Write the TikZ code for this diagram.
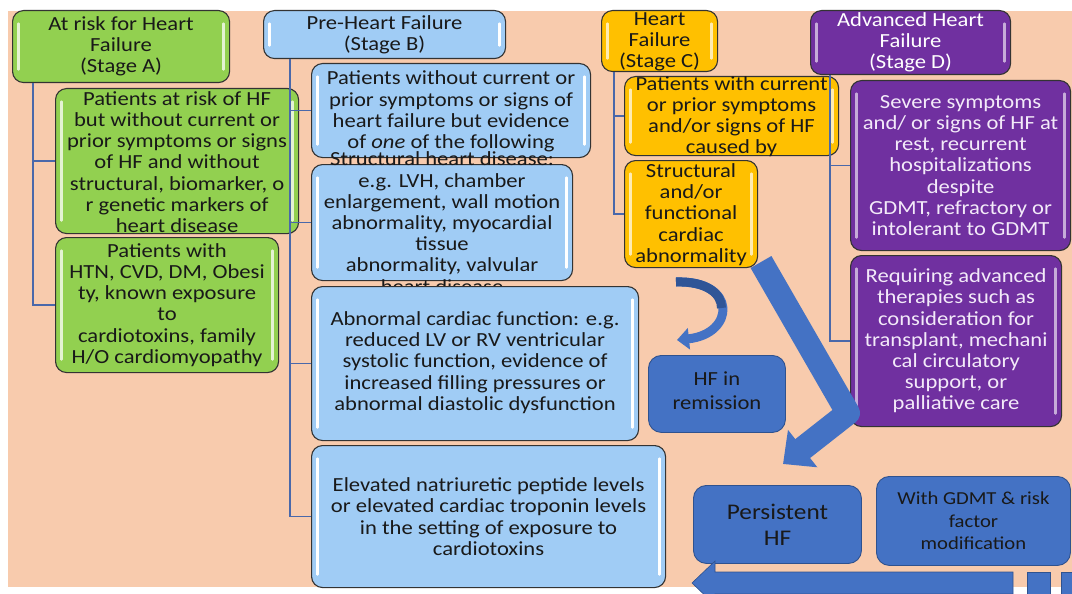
\documentclass[tikz,border=0pt]{standalone}
\usepackage{fontspec}
\setmainfont{Carlito}[FakeStretch=1.13]
\usetikzlibrary{arrows.meta}
\definecolor{cpeach}{HTML}{F8CBAD}
\definecolor{cgreen}{HTML}{92D050}
\definecolor{cblue}{HTML}{A0CCF5}
\definecolor{cgold}{HTML}{FFC000}
\definecolor{cpurple}{HTML}{7030A0}
\definecolor{cdark}{HTML}{4472C4}
\definecolor{cdarker}{HTML}{2F5597}
\definecolor{cdarkedge}{HTML}{2F528F}
\definecolor{cline}{HTML}{4A68AA}
\definecolor{clav}{HTML}{F3EAF9}
\tikzset{
  box/.style={draw=black!80, line width=1.1pt, rounded corners=11pt, inner sep=0pt, anchor=north west},
  gloss/.style={path picture={
    \draw[#1, line width=2.4pt, line cap=round]
      ([xshift=6pt,yshift=-13pt]path picture bounding box.north west) -- ([xshift=6pt,yshift=13pt]path picture bounding box.south west);
    \draw[#1, line width=2.4pt, line cap=round]
      ([xshift=-6pt,yshift=-13pt]path picture bounding box.north east) -- ([xshift=-6pt,yshift=13pt]path picture bounding box.south east);
  }},
  gbox/.style={box, fill=cgreen, gloss=cgreen!25!white},
  bbox/.style={box, fill=cblue, gloss=white},
  ybox/.style={box, fill=cgold, gloss=cgold!30!white},
  pbox/.style={box, fill=cpurple, gloss=cpurple!40!white},
  dbox/.style={draw=cdarkedge, line width=0.9pt, fill=cdark, rounded corners=13pt, inner sep=0pt, anchor=north west},
  txt/.style={align=center, inner sep=0pt, font=\fontsize{20}{21.2}\selectfont, text=black!90},
  wtxt/.style={txt, text=clav},
  conn/.style={draw=cline, line width=1.3pt},
}
\begin{document}
\begin{tikzpicture}[x=1pt,y=-1pt]
\useasboundingbox (0,0) rectangle (1072,594);
\clip (0,0) rectangle (1072,594);
\fill[cpeach] (8,11) rectangle (1072,587);

% Stage A
\node[gbox, minimum width=217pt, minimum height=72pt,
  label={[txt]center:{At risk for Heart\\Failure\\(Stage A)}}] (A) at (12,10) {};
\node[gbox, minimum width=243pt, minimum height=145pt,
  label={[txt,yshift=-1pt]center:{Patients at risk of HF\\but without current or\\prior symptoms or signs\\of HF and without\\structural, biomarker, o\\r genetic markers of\\heart disease}}] (A1) at (55,88) {};
\node[gbox, minimum width=223pt, minimum height=135pt,
  label={[txt]center:{Patients with\\HTN, CVD, DM, Obesi\\ty, known exposure\\to\\cardiotoxins, family\\H/O cardiomyopathy}}] (A2) at (55,237) {};

% Stage B
\node[bbox, minimum width=242pt, minimum height=48pt,
  label={[txt]center:{Pre-Heart Failure\\(Stage B)}}] (B) at (263,10) {};
\node[bbox, minimum width=279pt, minimum height=94pt,
  label={[txt,yshift=-1pt]center:{Patients without current or\\prior symptoms or signs of\\heart failure but evidence\\of \textit{one} of the following}}] (B1) at (311,63) {};
\node[bbox, minimum width=261pt, minimum height=116pt,
  label={[txt]center:{Structural heart disease:\\e.g. LVH, chamber\\enlargement, wall motion\\abnormality, myocardial\\tissue\\abnormality, valvular\\heart disease}}] (B2) at (311,164) {};
\node[bbox, minimum width=327pt, minimum height=154pt,
  label={[txt,yshift=1pt]center:{Abnormal cardiac function: e.g.\\reduced LV or RV ventricular\\systolic function, evidence of\\increased filling pressures or\\abnormal diastolic dysfunction}}] (B3) at (311,286) {};
\node[bbox, minimum width=354pt, minimum height=142pt,
  label={[txt]center:{Elevated natriuretic peptide levels\\or elevated cardiac troponin levels\\in the setting of exposure to\\cardiotoxins}}] (B4) at (311,445) {};

% Stage C
\node[ybox, minimum width=116pt, minimum height=61pt,
  label={[txt,yshift=-0.5pt]center:{Heart\\Failure\\(Stage C)}}] (C) at (601,10) {};
\node[ybox, minimum width=214pt, minimum height=79pt,
  label={[txt,yshift=-0.5pt]center:{Patients with current\\or prior symptoms\\and/or signs of HF\\caused by}}] (C1) at (624,76) {};

% Stage D
\node[pbox, minimum width=200pt, minimum height=64pt,
  label={[txt,text=white]center:{Advanced Heart\\Failure\\(Stage D)}}] (D) at (810,10) {};
\node[pbox, minimum width=220pt, minimum height=170pt,
  label={[wtxt]center:{Severe symptoms\\and/ or signs of HF at\\rest, recurrent\\hospitalizations\\despite\\GDMT, refractory or\\intolerant to GDMT}}] (D1) at (850,80) {};
\node[pbox, minimum width=211pt, minimum height=171pt,
  label={[wtxt]center:{Requiring advanced\\therapies such as\\consideration for\\transplant, mechani\\cal circulatory\\support, or\\palliative care}}] (D2) at (850,255) {};

% outcome boxes
\node[dbox, minimum width=137pt, minimum height=77pt,
  label={[txt,font=\fontsize{20}{24}\selectfont,yshift=3pt]center:{HF in\\remission}}] (R) at (648,355) {};
\node[dbox, minimum width=168pt, minimum height=78pt,
  label={[txt,font=\fontsize{22.4}{26}\selectfont]center:{Persistent\\HF}}] (P) at (693,485) {};
\node[dbox, minimum width=194pt, minimum height=89pt,
  label={[txt,font=\fontsize{18.3}{22.5}\selectfont]center:{With GDMT \& risk\\factor\\modification}}] (G) at (876,476) {};

% block arrows
\draw[cdark, line width=24pt, line join=round, -{Triangle[width=46pt,length=25pt]}]
  (761,262) -- (848,413) -- (783,464);
\draw[cdark, line width=9pt, -{Triangle[width=21pt,length=12pt]}]
  (676,282) .. controls (738,280) and (735,334) .. (677,340);
\draw[cdarker, line width=9pt]
  (676,282) .. controls (707,281) and (721.75,294) .. (721.5,308);
\fill[cdark, draw=cdarkedge, line width=0.6pt]
  (692,583) -- (715,561) -- (715,572) -- (1013,572) -- (1013,594) -- (715,594) -- (715,605) -- cycle;
\fill[cdark, draw=cdarkedge, line width=0.6pt] (1027,572) rectangle (1050,594);
\fill[cdark, draw=cdarkedge, line width=0.6pt] (1061,572) rectangle (1084,594);

% C2 drawn over the arrow start
\node[ybox, minimum width=133pt, minimum height=107pt,
  label={[txt,yshift=-0.5pt]center:{Structural\\and/or\\functional\\cardiac\\abnormality}}] (C2) at (624,160) {};

% connectors
\draw[conn] ([xshift=21pt]A.south west) |- (A1.west);
\draw[conn] ([xshift=21pt]A.south west) |- (A2.west);
\draw[conn] ([xshift=27pt]B.south west) |- (B1.west);
\draw[conn] ([xshift=27pt]B.south west) |- (B2.west);
\draw[conn] ([xshift=27pt]B.south west) |- (B3.west);
\draw[conn] ([xshift=27pt]B.south west) |- (B4.west);
\draw[conn] ([xshift=13pt]C.south west) |- (C1.west);
\draw[conn] ([xshift=13pt]C.south west) |- (C2.west);
\draw[conn] ([xshift=20pt]D.south west) |- (D1.west);
\draw[conn] ([xshift=20pt]D.south west) |- (D2.west);
\end{tikzpicture}
\end{document}
